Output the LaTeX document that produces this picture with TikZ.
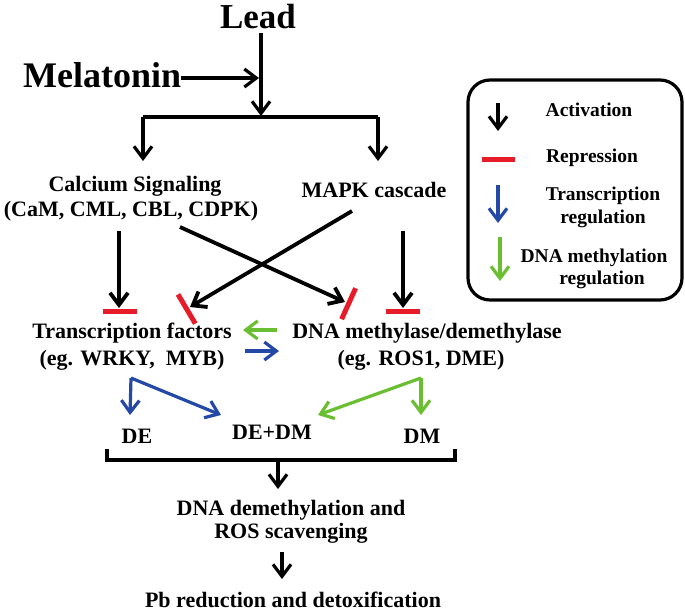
\documentclass[tikz,border=0pt]{standalone}
\usepackage{fontspec}
\setmainfont{Liberation Serif}
\usetikzlibrary{arrows.meta}
\definecolor{repred}{RGB}{232,28,40}
\definecolor{trblue}{RGB}{36,72,165}
\definecolor{dmgreen}{RGB}{105,190,50}
\begin{document}
\begin{tikzpicture}[x=1pt,y=-1pt,
  txt/.style={font=\bfseries\fontsize{22}{24}\selectfont, inner sep=0pt, anchor=base},
  big/.style={font=\bfseries\fontsize{35}{38}\selectfont, inner sep=0pt, anchor=base},
  lg/.style={font=\bfseries\fontsize{19.5}{21}\selectfont, inner sep=0pt, anchor=base},
  act/.style={line width=3.2pt, -{Straight Barb[length=12pt,width=18pt]}},
  thick act/.style={act, line width=3.8pt},
  tra/.style={act, trblue},
  dma/.style={act, dmgreen},
  repbar/.style={repred, line width=5pt},
  plain/.style={line width=3.2pt}
]
\useasboundingbox (0,0) rectangle (685,611);

% texts
\node[big] (lead) at (258,28) {Lead};
\node[big, anchor=base west, font=\bfseries\fontsize{36}{38}\selectfont] (mel) at (23,87) {Melatonin};
\node[txt] (ca1) at (135,191) {Calcium Signaling};
\node[txt] (ca2) at (131,216) {(CaM, CML, CBL, CDPK)};
\node[txt] (mapk) at (374,197) {MAPK cascade};
\node[txt] (tf1) at (132,338) {Transcription factors};
\node[txt] (tf2) at (132,365) {(eg. WRKY,\ \ MYB)};
\node[txt] (dna1) at (427,338) {DNA methylase/demethylase};
\node[txt] (dna2) at (421,365) {(eg. ROS1, DME)};
\node[txt] (de) at (137,443) {DE};
\node[txt] (dedm) at (272,439) {DE+DM};
\node[txt] (dmn) at (422,443) {DM};
\node[txt] (ros1) at (291,515) {DNA demethylation and};
\node[txt] (ros2) at (291,538) {ROS scavenging};
\node[txt] (pb) at (293,607) {Pb reduction and detoxification};

% junction coordinates
\coordinate (leadtop) at (261,33);
\coordinate (split) at (261,116);
\coordinate (splitL) at (143,117);
\coordinate (splitR) at (378,117);
\coordinate (mjoin) at (259,78);

% top arrows
\draw[act] (leadtop) -- (split);
\draw[act] (mel.east |- mjoin) -- (mjoin);
\draw[plain] (splitL) -- (splitR);
\draw[act] (splitL) -- (143,161);
\draw[act] (splitR) -- (378,161);

% calcium / mapk to TF / DNA
\draw[thick act] (119,231) -- (119,308);
\draw[repbar] (103,311) -- (137,311);
\draw[thick act] (403,231) -- (403,308);
\draw[repbar] (386,311) -- (420,311);
\draw[thick act] (180,227) -- (345,302);
\draw[repbar] (355.6,288.2) -- (341.6,319.2);
\draw[thick act] (352,211) -- (190,307);
\draw[repbar] (178,294.4) -- (195.3,323.6);

% TF <-> DNA
\draw[dma] (277,330) -- (243,330);
\draw[tra] (245,351) -- (279,351);

% to DE / DM
\coordinate (tfo) at (131,378);
\coordinate (dnao) at (421,378);
\draw[tra] (tfo) -- (130,415);
\draw[tra] (tfo) -- (221,415);
\draw[dma] (dnao) -- (421,415);
\draw[dma] (dnao) -- (318,415);

% bracket and outputs
\draw[plain] (107,449) -- (107,460) -- (455,460) -- (455,449);
\draw[act] (278,462) -- (278,489);
\draw[act] (282,552) -- (282,579);

% legend
\draw[line width=3.2pt, rounded corners=22pt] (468,80) rectangle (682,300);
\draw[act] (498,103) -- (498,131);
\draw[repbar] (482,159) -- (515,159);
\draw[tra] (498,185) -- (498,223);
\draw[dma] (500,237) -- (500,281);
\node[lg] (lact) at (589,116) {Activation};
\node[lg] (lrep) at (592,162) {Repression};
\node[lg] (ltr1) at (603,200) {Transcription};
\node[lg] (ltr2) at (603,223) {regulation};
\node[lg] (ldm1) at (594,262) {DNA methylation};
\node[lg] (ldm2) at (602,284) {regulation};
\end{tikzpicture}
\end{document}
